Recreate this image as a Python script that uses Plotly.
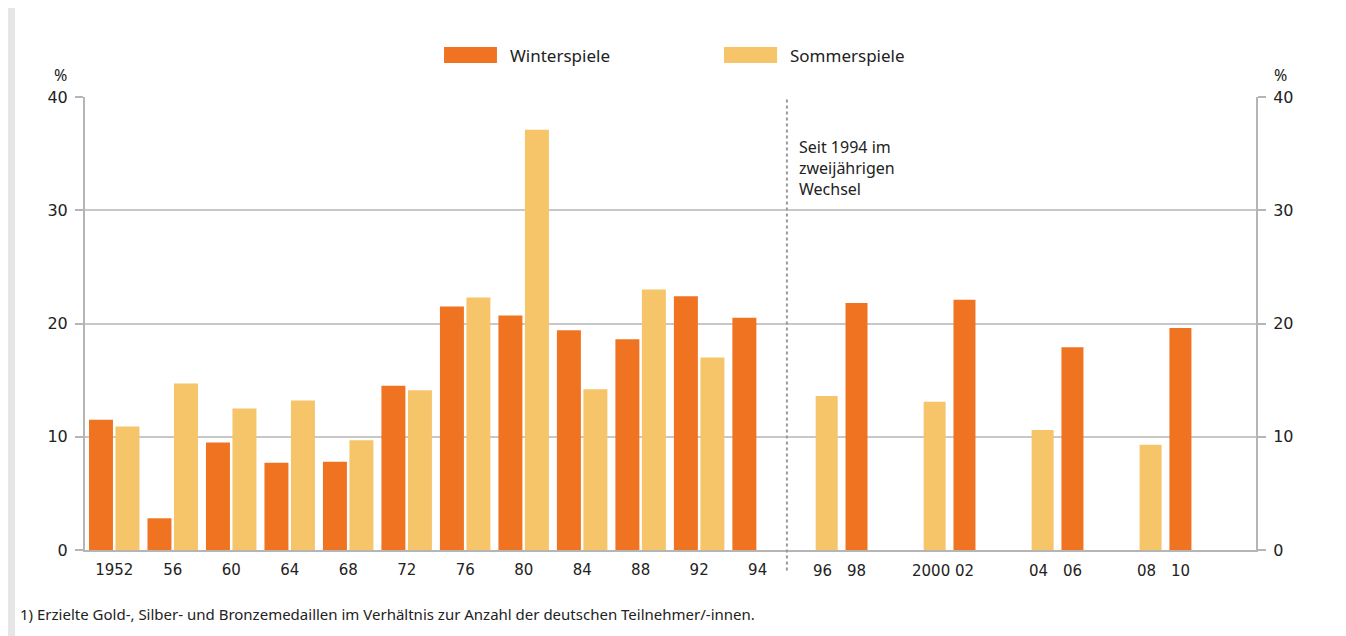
import plotly.graph_objects as go

# Data (percent)
years_pre = ["1952", "56", "60", "64", "68", "72", "76", "80", "84", "88", "92", "94"]
winter_pre = [11.5, 2.8, 9.5, 7.7, 7.8, 14.5, 21.5, 20.7, 19.4, 18.6, 22.4, 20.5]
summer_pre = [10.9, 14.7, 12.5, 13.2, 9.7, 14.1, 22.3, 37.1, 14.2, 23.0, 17.0, None]

# since 1994 alternating: summer first, then winter two years later
summer_post_labels = ["96", "2000", "04", "08"]
summer_post = [13.6, 13.1, 10.6, 9.3]
winter_post_labels = ["98", "02", "06", "10"]
winter_post = [21.8, 22.1, 17.9, 19.6]

y_ticks = [0, 10, 20, 30, 40]

WINTER = "#F07322"
SUMMER = "#F6C469"
GRID = "#C8C8C8"
AXIS = "#B5B5B5"
TEXT = "#222222"
FONT = "Noto Sans"
TICKFONT = dict(family="DejaVu Sans", size=16, color=TEXT)
XTICKFONT = dict(family="DejaVu Sans", size=15, color=TEXT)

# slot layout on a linear axis
pre_x = list(range(len(years_pre)))
POST_START = 12.18
POST_PITCH = 1.846
PAIR_GAP = 0.51
summer_post_x = [POST_START + POST_PITCH * j for j in range(len(summer_post))]
winter_post_x = [x + PAIR_GAP for x in summer_post_x]

fig = go.Figure()

fig.add_trace(go.Bar(x=pre_x, y=winter_pre, name="Winterspiele",
                     marker=dict(color=WINTER, line=dict(width=0)),
                     width=0.41, offset=-0.432))
fig.add_trace(go.Bar(x=pre_x, y=summer_pre, name="Sommerspiele",
                     marker=dict(color=SUMMER, line=dict(width=0)),
                     width=0.41, offset=0.021))
fig.add_trace(go.Bar(x=summer_post_x, y=summer_post, name="Sommerspiele",
                     marker=dict(color=SUMMER, line=dict(width=0)),
                     width=0.376, offset=-0.188, yaxis="y2"))
fig.add_trace(go.Bar(x=winter_post_x, y=winter_post, name="Winterspiele",
                     marker=dict(color=WINTER, line=dict(width=0)),
                     width=0.376, offset=-0.188, yaxis="y2"))

shapes = [
    # white panel on grey page
    dict(type="rect", xref="paper", yref="paper", x0=-0.0598, x1=1.0734, y0=-0.25, y1=1.2,
         fillcolor="white", line=dict(width=0), layer="below"),
    # divider since 1994
    dict(type="line", xref="x", yref="paper", x0=11.5, x1=11.5, y0=-0.045, y1=1,
         line=dict(color="#9A9A9A", width=2, dash="dot")),
    # legend swatches
    dict(type="rect", xref="paper", yref="paper", x0=0.3066, x1=0.3518, y0=1.075, y1=1.1104,
         fillcolor=WINTER, line=dict(width=0)),
    dict(type="rect", xref="paper", yref="paper", x0=0.5457, x1=0.5910, y0=1.075, y1=1.1104,
         fillcolor=SUMMER, line=dict(width=0)),
]

annotations = [
    dict(text="Winterspiele", xref="paper", yref="paper", x=0.3612, y=1.0927,
         xanchor="left", yanchor="middle", showarrow=False, font=dict(size=17)),
    dict(text="Sommerspiele", xref="paper", yref="paper", x=0.6003, y=1.0927,
         xanchor="left", yanchor="middle", showarrow=False, font=dict(size=17)),
    dict(text="%", xref="paper", yref="paper", x=-0.0213, y=1.0486,
         xanchor="center", yanchor="middle", showarrow=False, font=dict(size=16)),
    dict(text="%", xref="paper", yref="paper", x=1.0205, y=1.0486,
         xanchor="center", yanchor="middle", showarrow=False, font=dict(size=16)),
    dict(text="Seit 1994 im<br>zweijährigen<br>Wechsel", xref="x", yref="paper", x=11.5, y=0.918,
         xanchor="left", yanchor="top", xshift=10, align="left", showarrow=False,
         font=dict(size=16)),
    dict(text="1) Erzielte Gold-, Silber- und Bronzemedaillen im Verhältnis zur Anzahl der deutschen Teilnehmer/-innen.",
         xref="paper", yref="paper", x=-0.0572, y=-0.1413, xanchor="left", yanchor="middle",
         showarrow=False, font=dict(size=15)),
]

# year labels under each bar after 1994 (summer label sits a touch left)
for sx, sl, wx, wl in zip(summer_post_x, summer_post_labels, winter_post_x, winter_post_labels):
    annotations.append(dict(text=sl, xref="x", yref="paper", x=sx, y=0, xanchor="center",
                            yanchor="top", xshift=-4, yshift=-10, showarrow=False, font=XTICKFONT))
    annotations.append(dict(text=wl, xref="x", yref="paper", x=wx, y=0, xanchor="center",
                            yanchor="top", yshift=-10, showarrow=False, font=XTICKFONT))

fig.update_layout(
    width=1338, height=628,
    margin=dict(l=77, r=90, t=89, b=86),
    paper_bgcolor="#E6E6E6",
    plot_bgcolor="white",
    font=dict(family=FONT, size=16, color=TEXT),
    barmode="overlay",
    showlegend=False,
    shapes=shapes,
    annotations=annotations,
    xaxis=dict(range=[-0.5, 19.52], tickmode="array", tickvals=pre_x, ticktext=years_pre,
               showgrid=False, zeroline=False, showline=True, linecolor=AXIS, linewidth=2,
               ticks="", tickangle=0, ticklabelstandoff=5, tickfont=XTICKFONT, fixedrange=True),
    yaxis=dict(range=[0, 40], tickvals=y_ticks, showgrid=True, gridcolor=GRID, gridwidth=1.5,
               zeroline=False, showline=True, linecolor=AXIS, linewidth=2, tickfont=TICKFONT,
               ticks="outside", ticklen=8, tickwidth=1.5, tickcolor=AXIS, ticklabelstandoff=4),
    yaxis2=dict(range=[0, 40], tickvals=y_ticks, overlaying="y", side="right", showgrid=False,
                zeroline=False, showline=True, linecolor=AXIS, linewidth=2, tickfont=TICKFONT,
                ticks="outside", ticklen=8, tickwidth=1.5, tickcolor=AXIS, ticklabelstandoff=4),
)

fig.write_html("out.html")
